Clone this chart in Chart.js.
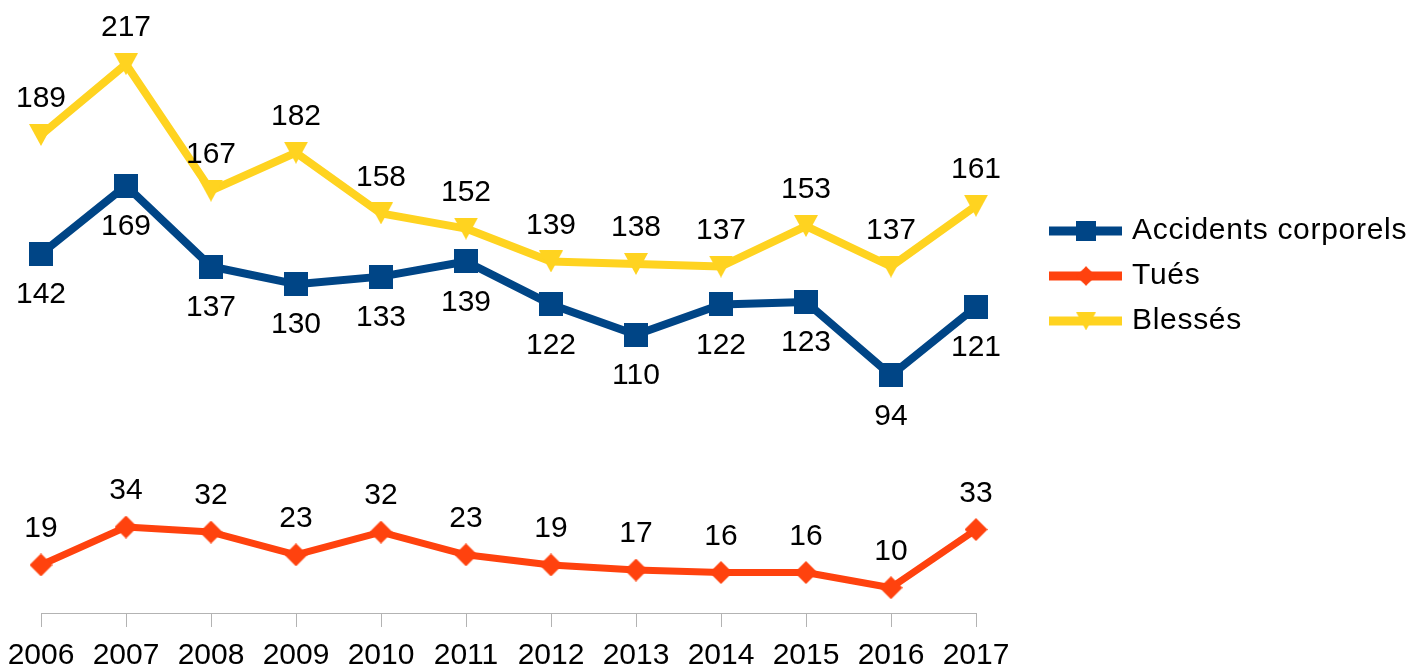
<!DOCTYPE html>
<html>
<head>
<meta charset="utf-8">
<script src="https://cdn.jsdelivr.net/npm/chart.js@4.4.1/dist/chart.umd.min.js"></script>
<style>
  html, body { margin: 0; padding: 0; background: #fff; }
  #wrap { width: 1426px; height: 665px; }
</style>
</head>
<body>
<div id="wrap"><canvas id="accChart" width="1426" height="665"></canvas></div>
<script>
const years = ['2006', '2007', '2008', '2009', '2010', '2011', '2012', '2013', '2014', '2015', '2016', '2017'];
const accidents = [142, 169, 137, 130, 133, 139, 122, 110, 122, 123, 94, 121];
const tues = [19, 34, 32, 23, 32, 23, 19, 17, 16, 16, 10, 33];
const blesses = [189, 217, 167, 182, 158, 152, 139, 138, 137, 153, 137, 161];

const FONT = '"Liberation Sans", Arial, sans-serif';

// petits marqueurs dessinés sur un canvas, utilisés comme pointStyle
function marker(shape, color, w, h) {
  const c = document.createElement('canvas');
  c.width = w;
  c.height = h;
  const g = c.getContext('2d');
  g.fillStyle = color;
  g.beginPath();
  if (shape === 'square') {
    g.rect(0, 0, w, h);
  } else if (shape === 'diamond') {
    g.moveTo(w / 2, 0);
    g.lineTo(w, h / 2);
    g.lineTo(w / 2, h);
    g.lineTo(0, h / 2);
  } else {
    g.moveTo(0, 0);
    g.lineTo(w, 0);
    g.lineTo(w / 2, h);
  }
  g.closePath();
  g.fill();
  return c;
}

// étiquettes de valeur : dessous pour les accidents, dessus pour les autres
const valueLabels = {
  id: 'valueLabels',
  afterDatasetsDraw(chart) {
    const ctx = chart.ctx;
    ctx.save();
    ctx.font = '30px ' + FONT;
    ctx.fillStyle = '#000';
    ctx.textAlign = 'center';
    ctx.textBaseline = 'alphabetic';
    chart.data.datasets.forEach((ds, i) => {
      const dir = i === 0 ? 1 : -1;
      chart.getDatasetMeta(i).data.forEach((pt, j) => {
        ctx.fillText(String(ds.data[j]), pt.x, pt.y + dir * 38.5 + 10.75);
      });
    });
    ctx.restore();
  }
};

// légende à droite : trait + marqueur + texte
const sideLegend = {
  id: 'sideLegend',
  afterDraw(chart) {
    const ctx = chart.ctx;
    ctx.save();
    chart.data.datasets.forEach((ds, i) => {
      const y = 231 + i * 45;
      ctx.strokeStyle = ds.borderColor;
      ctx.lineWidth = 9;
      ctx.beginPath();
      ctx.moveTo(1049, y);
      ctx.lineTo(1122, y);
      ctx.stroke();
      const m = ds.pointStyle;
      const s = 0.85;
      ctx.drawImage(m, 1086 - m.width * s / 2, y - m.height * s / 2, m.width * s, m.height * s);
      ctx.fillStyle = '#000';
      ctx.font = '30px ' + FONT;
      ctx.letterSpacing = '0.7px';
      ctx.textAlign = 'left';
      ctx.textBaseline = 'middle';
      ctx.fillText(ds.label, 1132, y);
    });
    ctx.restore();
  }
};

const ctx = document.getElementById('accChart').getContext('2d');
new Chart(ctx, {
  type: 'line',
  data: {
    labels: years,
    datasets: [
      {
        label: 'Accidents corporels',
        data: accidents,
        borderColor: '#004586',
        backgroundColor: '#004586',
        borderWidth: 8,
        pointStyle: marker('square', '#004586', 24, 24),
        clip: false
      },
      {
        label: 'Tués',
        data: tues,
        borderColor: '#ff420e',
        backgroundColor: '#ff420e',
        borderWidth: 7,
        pointStyle: marker('diamond', '#ff420e', 23, 23),
        clip: false
      },
      {
        label: 'Blessés',
        data: blesses,
        borderColor: '#ffd320',
        backgroundColor: '#ffd320',
        borderWidth: 8,
        pointStyle: marker('triangle', '#ffd320', 24, 22),
        clip: false
      }
    ]
  },
  options: {
    responsive: false,
    animation: false,
    events: [],
    layout: { autoPadding: false, padding: { left: 41, right: 450, top: 6, bottom: 0 } },
    elements: {
      line: { tension: 0, borderJoinStyle: 'round', borderCapStyle: 'round' },
      point: { radius: 12 }
    },
    plugins: {
      legend: { display: false },
      tooltip: { enabled: false }
    },
    scales: {
      x: {
        offset: false,
        grid: { drawOnChartArea: false, drawTicks: true, tickLength: 14, color: '#b3b3b3' },
        border: { display: true, color: '#b3b3b3' },
        ticks: {
          color: '#000',
          font: { family: FONT, size: 30, lineHeight: 1 },
          padding: 14,
          maxRotation: 0,
          autoSkip: false
        },
        afterFit(scale) {
          scale.height = 52;
          scale.paddingLeft = 0;
          scale.paddingRight = 0;
        }
      },
      y: { display: false, min: 0, max: 240 }
    }
  },
  plugins: [valueLabels, sideLegend]
});
</script>
</body>
</html>
